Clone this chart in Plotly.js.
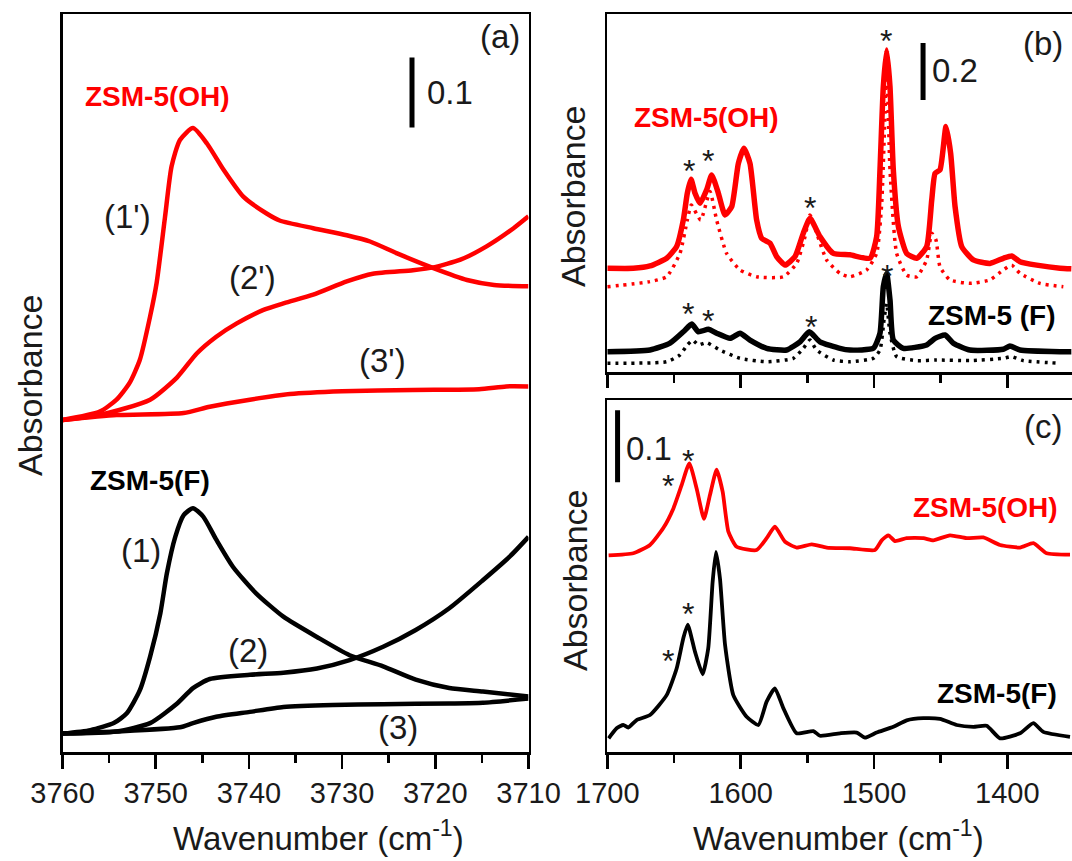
<!DOCTYPE html>
<html>
<head>
<meta charset="utf-8">
<script src="https://cdn.plot.ly/plotly-3.0.1.min.js"></script>
<style>html,body{margin:0;padding:0;background:#fff;}#chart{width:1072px;height:861px;}</style>
</head>
<body>
<div id="chart"></div>
<script>
// ---------- Panel (a): OH stretching region ----------
const aW_1p = [3760,3756,3754.2,3752.8,3751.7,3750.6,3749.9,3749.0,3748.3,3747.4,3746.0,3744.5,3742.7,3740.6,3738.1,3736.7,3733.1,3729.5,3727.0,3724.1,3720.2,3716.6,3713.7,3710];
const aA_1p = [0.490,0.502,0.519,0.543,0.576,0.638,0.686,0.780,0.852,0.890,0.907,0.885,0.847,0.809,0.785,0.775,0.764,0.754,0.745,0.728,0.707,0.690,0.683,0.681];
const aW_2p = [3760,3756,3750.6,3747.7,3745.6,3743.5,3741.3,3738.5,3736.2,3733.1,3729.5,3726.7,3722.4,3720.2,3717.3,3714.5,3711.6,3710];
const aA_2p = [0.490,0.497,0.519,0.551,0.585,0.609,0.628,0.647,0.657,0.669,0.688,0.699,0.704,0.708,0.719,0.738,0.764,0.781];
const aW_3p = [3760,3754.2,3747,3744.2,3739.9,3735.6,3730,3722.4,3715.3,3712.4,3710];
const aA_3p = [0.490,0.497,0.500,0.509,0.519,0.527,0.531,0.533,0.534,0.538,0.538];
const aW_1 = [3760,3757,3754.5,3753.1,3751.7,3750.6,3749.5,3748.8,3747.9,3747.0,3746.0,3744.9,3743.5,3741.7,3739.2,3736.3,3732.7,3729.2,3725.6,3722.1,3718.5,3714.9,3710];
const aA_1 = [0.042,0.047,0.057,0.071,0.104,0.152,0.214,0.271,0.323,0.354,0.364,0.352,0.319,0.280,0.242,0.209,0.180,0.154,0.138,0.119,0.107,0.102,0.095];
const aW_2 = [3760,3754.2,3750.6,3747.7,3746.0,3744.2,3739.9,3736.3,3732.7,3729.2,3725.6,3722.1,3718.5,3714.9,3712.0,3710];
const aA_2 = [0.042,0.045,0.057,0.085,0.107,0.120,0.126,0.129,0.135,0.147,0.166,0.190,0.221,0.261,0.295,0.323];
const aW_3 = [3760,3754.2,3747.4,3746.0,3743.5,3739.9,3736.3,3731.0,3725.6,3718.5,3714.9,3710];
const aA_3 = [0.042,0.045,0.051,0.057,0.066,0.073,0.080,0.083,0.084,0.085,0.086,0.092];

// ---------- Panel (b) ----------
const bW_ohS = [1700,1680.5,1668,1655.5,1648,1643,1640,1637.2,1634.2,1630.5,1625.5,1621.7,1616.7,1611.7,1606.7,1601.7,1597.5,1593,1588,1584.2,1578,1573,1566.7,1559.2,1553,1548,1540.5,1530.5,1518,1503,1498,1495.5,1493,1490.5,1488,1485.5,1481.7,1475.5,1468,1460.5,1456.7,1454.2,1450.5,1446,1442.5,1439.2,1434.2,1425.5,1413,1403,1396.7,1390.5,1378,1360.5,1352];
const bA_ohS = [0.357,0.357,0.365,0.392,0.433,0.526,0.620,0.669,0.620,0.585,0.632,0.684,0.620,0.544,0.573,0.725,0.778,0.725,0.526,0.462,0.445,0.398,0.368,0.398,0.480,0.532,0.468,0.409,0.404,0.392,0.468,0.702,0.994,1.123,0.994,0.702,0.503,0.409,0.392,0.433,0.596,0.690,0.702,0.854,0.760,0.573,0.433,0.386,0.374,0.392,0.400,0.380,0.368,0.357,0.355];
const bW_ohD = [1700,1668,1655.5,1645.5,1640,1637,1630,1623,1618,1610.5,1600.5,1588,1568,1558,1551.7,1548,1543,1535.5,1525.5,1518,1505.5,1498,1494.2,1491.7,1490.5,1488,1483,1475.5,1468,1460.5,1456.7,1453.5,1450.5,1443,1428,1413,1403,1396.7,1390.5,1375.5,1358];
const bA_ohD = [0.292,0.310,0.327,0.409,0.526,0.579,0.526,0.626,0.526,0.409,0.351,0.327,0.327,0.374,0.468,0.544,0.480,0.386,0.339,0.327,0.351,0.409,0.585,0.905,1.088,0.702,0.409,0.333,0.327,0.386,0.480,0.456,0.362,0.316,0.304,0.316,0.351,0.368,0.339,0.304,0.292];
const bW_fS = [1700,1668,1653,1643,1636.7,1631.7,1624.2,1618,1608,1600.5,1593,1580.5,1565.5,1555.5,1548.5,1540.5,1525.5,1518,1500.5,1495.5,1493,1490.5,1488,1485.5,1478,1460.5,1454.2,1446.7,1440.5,1428,1403,1398,1390.5,1360.5,1352];
const bA_fS = [0.064,0.070,0.094,0.134,0.161,0.134,0.143,0.129,0.111,0.129,0.105,0.076,0.070,0.099,0.134,0.099,0.076,0.070,0.076,0.129,0.292,0.339,0.246,0.105,0.076,0.088,0.111,0.123,0.094,0.070,0.073,0.084,0.070,0.064,0.064];
const bW_fD = [1700,1655.5,1645.5,1640,1636,1631.7,1625.5,1615.5,1600.5,1580.5,1560.5,1553,1548,1543,1530.5,1518,1500.5,1495.5,1492.5,1490.5,1488,1483,1468,1453,1428,1403,1396.7,1388,1360.5];
const bA_fD = [0.0235,0.029,0.053,0.088,0.105,0.088,0.096,0.070,0.041,0.029,0.041,0.076,0.105,0.070,0.035,0.029,0.041,0.070,0.175,0.234,0.129,0.047,0.033,0.035,0.033,0.041,0.047,0.033,0.0235];

// ---------- Panel (c) ----------
const cW_oh = [1699,1680.5,1668,1658,1650.5,1644.2,1638.5,1633,1627.5,1623,1618,1613.5,1609.2,1603,1588,1580.5,1574.3,1566.7,1558,1546.7,1535.5,1518,1499.3,1494.2,1489.2,1484.2,1475.5,1463,1455.5,1443,1430.5,1418,1405.5,1390.5,1380.5,1370.5,1353];
const cA_oh = [0.273,0.276,0.2875,0.311,0.338,0.371,0.401,0.366,0.324,0.357,0.392,0.3615,0.306,0.285,0.2805,0.297,0.313,0.292,0.284,0.2885,0.284,0.283,0.2805,0.294,0.301,0.293,0.297,0.297,0.294,0.301,0.297,0.298,0.2875,0.284,0.290,0.276,0.274];
const cW_f = [1699,1693,1688,1684.3,1678,1668,1655.5,1648,1643,1639.7,1634.2,1628.5,1624.3,1621,1618.5,1615.5,1611.7,1605.5,1595.5,1586.7,1580.5,1574.3,1568,1558,1545.5,1540.5,1525.5,1513,1506.8,1498,1485.5,1475.5,1463,1450.5,1438,1425.5,1415.5,1405.5,1390.5,1380.5,1373,1353];
const cA_f = [0.019,0.033,0.0375,0.034,0.0444,0.0514,0.079,0.116,0.158,0.177,0.139,0.108,0.144,0.2365,0.278,0.241,0.149,0.079,0.049,0.0375,0.070,0.0885,0.061,0.026,0.029,0.0226,0.026,0.027,0.020,0.027,0.035,0.044,0.047,0.046,0.0375,0.035,0.0365,0.019,0.026,0.040,0.028,0.021];

const RED = '#ff0000', BLK = '#000000';
const FONT = 'Liberation Sans, Arial, sans-serif';
const W = 1072, H = 861;
const px = (x) => x / W;
const py = (y) => 1 - y / H;

function line(x, y, color, width, xa, ya, dash, smooth) {
  return {x, y, type: 'scatter', mode: 'lines', xaxis: xa, yaxis: ya, hoverinfo: 'skip', showlegend: false,
    line: {color, width, dash: dash || 'solid', shape: 'spline', smoothing: smooth === undefined ? 0.6 : smooth}};
}

const traces = [
  line(aW_3p, aA_3p, RED, 4.5, 'x', 'y'),
  line(aW_2p, aA_2p, RED, 4.5, 'x', 'y'),
  line(aW_1p, aA_1p, RED, 4.5, 'x', 'y'),
  line(aW_3, aA_3, BLK, 4.5, 'x', 'y'),
  line(aW_2, aA_2, BLK, 4.5, 'x', 'y'),
  line(aW_1, aA_1, BLK, 4.5, 'x', 'y'),
  line(bW_ohD, bA_ohD, RED, 3.5, 'x2', 'y2', '3px,5px', 0.5),
  line(bW_ohS, bA_ohS, RED, 5.5, 'x2', 'y2', 'solid', 0.5),
  line(bW_fD, bA_fD, BLK, 3.5, 'x2', 'y2', '3px,5px', 0.5),
  line(bW_fS, bA_fS, BLK, 5.5, 'x2', 'y2', 'solid', 0.5),
  line(cW_oh, cA_oh, RED, 3.8, 'x3', 'y3', 'solid', 0.5),
  line(cW_f, cA_f, BLK, 3.8, 'x3', 'y3', 'solid', 0.5)
];

const axisLine = {showline: true, linecolor: '#000', linewidth: 2.5, showgrid: false, zeroline: false};
const xTick = {ticks: 'outside', ticklen: 14, tickwidth: 2.5, tickcolor: '#000',
  minor: {ticks: 'outside', ticklen: 8, tickwidth: 2.5, tickcolor: '#000', showgrid: false},
  tickfont: {family: FONT, size: 29, color: '#1a1a1a'}};

const layout = {
  width: W, height: H,
  margin: {l: 0, r: 0, t: 0, b: 0},
  paper_bgcolor: '#fff', plot_bgcolor: 'rgba(0,0,0,0)',
  showlegend: false,
  xaxis: Object.assign({}, axisLine, xTick, {domain: [px(62.5), px(528.5)], anchor: 'y', range: [3760, 3710],
    mirror: true, tick0: 3710, dtick: 10, minor: Object.assign({}, xTick.minor, {dtick: 5})}),
  yaxis: Object.assign({}, axisLine, {domain: [py(752), py(14)], anchor: 'x', range: [0.0157, 1.07],
    mirror: true, showticklabels: false, ticks: ''}),
  xaxis2: Object.assign({}, axisLine, xTick, {domain: [px(607.3), 1], anchor: 'y2', range: [1700, 1351.5],
    mirror: true, tick0: 1400, dtick: 100, ticklen: 13, showticklabels: false,
    minor: Object.assign({}, xTick.minor, {dtick: 50})}),
  yaxis2: Object.assign({}, axisLine, {domain: [py(372), py(14)], anchor: 'x2', range: [-0.007, 1.249],
    showticklabels: false, ticks: ''}),
  xaxis3: Object.assign({}, axisLine, xTick, {domain: [px(607.3), 1], anchor: 'y3', range: [1700, 1351.5],
    mirror: true, tick0: 1400, dtick: 100, minor: Object.assign({}, xTick.minor, {dtick: 50})}),
  yaxis3: Object.assign({}, axisLine, {domain: [py(752), py(400)], anchor: 'x3', range: [0, 0.4889],
    showticklabels: false, ticks: ''}),
  shapes: [
    {type: 'line', xref: 'x', yref: 'y', x0: 3722.5, x1: 3722.5, y0: 0.908, y1: 1.008, line: {color: '#000', width: 5}},
    {type: 'line', xref: 'x2', yref: 'y2', x0: 1463.2, x1: 1463.2, y0: 0.947, y1: 1.147, line: {color: '#000', width: 5}},
    {type: 'line', xref: 'x3', yref: 'y3', x0: 1692.3, x1: 1692.3, y0: 0.3746, y1: 0.4746, line: {color: '#000', width: 5}}
  ],
  annotations: []
};

function ann(text, x, y, size, color, opts) {
  layout.annotations.push(Object.assign({text, x: px(x), y: py(y), xref: 'paper', yref: 'paper',
    showarrow: false, xanchor: 'center', yanchor: 'middle',
    font: {family: FONT, size, color: color || '#1a1a1a'}}, opts || {}));
}

// axis titles
ann('Wavenumber (cm<sup>-1</sup>)', 318, 836, 33);
ann('Wavenumber (cm<sup>-1</sup>)', 838, 836, 33);
ann('Absorbance', 30, 386, 34, null, {textangle: -90});
ann('Absorbance', 573, 197, 34, null, {textangle: -90});
ann('Absorbance', 575, 581, 34, null, {textangle: -90});

// panel (a) labels
ann('(a)', 500, 37, 33);
ann('0.1', 450, 92, 33);
ann('<b>ZSM-5(OH)</b>', 157, 97, 28, RED);
ann('<b>ZSM-5(F)</b>', 150, 481, 28, BLK);
ann("(1')", 127, 217, 33);
ann("(2')", 252, 277, 33);
ann("(3')", 382, 360, 33);
ann('(1)', 141, 550, 33);
ann('(2)', 248, 650, 33);
ann('(3)', 398, 727, 33);

// panel (b) labels
ann('(b)', 1043, 43, 33);
ann('0.2', 955, 70, 33);
ann('<b>ZSM-5(OH)</b>', 706, 118, 28, RED);
ann('<b>ZSM-5 (F)</b>', 992, 315, 28, BLK);
[[689, 162], [708, 152], [810, 199], [886, 32], [688, 305], [708, 312], [811, 318], [887, 267]].forEach(p => ann('*', p[0], p[1] + 9, 32));

// panel (c) labels
ann('(c)', 1043, 427, 33);
ann('0.1', 649, 448, 33);
ann('<b>ZSM-5(OH)</b>', 985, 507, 28, RED);
ann('<b>ZSM-5(F)</b>', 997, 693, 28, BLK);
[[688, 452], [668, 477], [688, 605], [668, 652]].forEach(p => ann('*', p[0], p[1] + 9, 32));

Plotly.newPlot('chart', traces, layout, {displayModeBar: false, staticPlot: true});
</script>
</body>
</html>
